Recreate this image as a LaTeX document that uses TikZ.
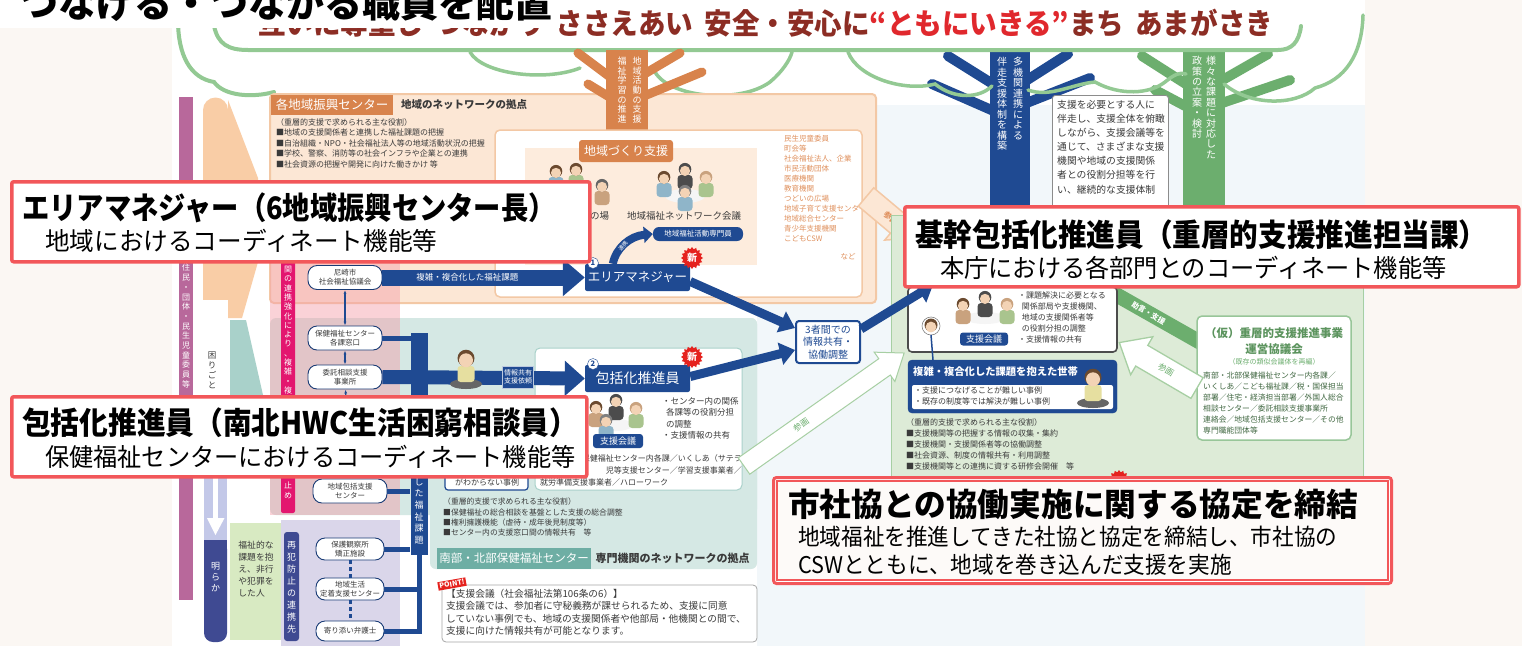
\documentclass[tikz,border=0pt]{standalone}
\usepackage{graphicx}
\usepackage{fontspec}
\setmainfont{Noto Sans CJK JP}
\usetikzlibrary{shapes.geometric,arrows.meta,calc}

\definecolor{offw}{HTML}{FBF7F3}
\definecolor{skyL}{HTML}{F2F7FA}
\definecolor{navy}{HTML}{1F4A92}
\definecolor{callred}{HTML}{F2575A}
\definecolor{orD}{HTML}{D8834C}
\definecolor{orL}{HTML}{FCE7D5}
\definecolor{orM}{HTML}{F9CDA6}
\definecolor{orB}{HTML}{F3C8A5}
\definecolor{orT}{HTML}{E0915E}
\definecolor{teL}{HTML}{D5E8E4}
\definecolor{teD}{HTML}{6EAEA4}
\definecolor{teW}{HTML}{A9D1CA}
\definecolor{grL}{HTML}{DDEBD7}
\definecolor{grD}{HTML}{6CAE6E}
\definecolor{grB}{HTML}{A7CFA3}
\definecolor{grLine}{HTML}{93C993}
\definecolor{mag}{HTML}{E3166F}
\definecolor{mauve}{HTML}{B8689B}
\definecolor{pinkov}{HTML}{F49CA8}
\definecolor{banner}{HTML}{8C2D24}
\definecolor{bannerR}{HTML}{E0282D}
\definecolor{txt}{HTML}{3A3A3A}
\definecolor{lav}{HTML}{DAD6EA}
\definecolor{lavA}{HTML}{C3C8E8}
\definecolor{indi}{HTML}{3F4A92}
\definecolor{lgreen}{HTML}{D8EAC2}
\definecolor{skin}{HTML}{F3D3B5}
\definecolor{hairA}{HTML}{6B4A2F}
\definecolor{shirtA}{HTML}{8FB5C9}
\definecolor{shirtB}{HTML}{A9C48E}
\definecolor{shirtC}{HTML}{C9A27E}
\definecolor{sitshirt}{HTML}{E6DFA0}
\definecolor{newred}{HTML}{E5221E}

\newcommand\fs[2]{\fontsize{#1}{#2}\selectfont}
% vertical (top-to-bottom) text: one character per line
\newcommand\vtend{}
\def\vtaux#1{\ifx#1\vtend\else\hbox to 0pt{\hss#1\hss}\expandafter\vtaux\fi}
\newcommand\vtxt[2]{\vbox{\baselineskip=#1pt\lineskiplimit=-100pt\lineskip=0pt\vtaux#2\vtend}}

% hollow block arrow: style, tail x, tail y, angle, length, shaft half width, head half width, head length
\newcommand\blockarrow[8]{%
  \begin{scope}[shift={(#2,#3)}, rotate=#4]
    \draw[#1] (0,-#6) -- ({#5-#8},-#6) -- ({#5-#8},-#7) -- (#5,0) -- ({#5-#8},#7) -- ({#5-#8},#6) -- (0,#6) -- cycle;
  \end{scope}}

% small figures of people
\newcommand\pperson[4]{%
  \begin{scope}[shift={(#1,#2)}]
    \fill[#3, rounded corners=3.5pt] (-7.5,5) rectangle (7.5,19);
    \fill[#4] (0,-0.8) circle (6.3pt);
    \fill[skin] (0,0.9) circle (5.1pt);
  \end{scope}}
\newcommand\psit[2]{%
  \begin{scope}[shift={(#1,#2)}]
    \fill[black!60] (0,25) ellipse (16pt and 5pt);
    \fill[sitshirt, rounded corners=3pt] (-8.5,7) rectangle (8.5,23);
    \fill[hairA] (0,-0.8) circle (8.5pt);
    \fill[skin] (0,1.3) circle (7pt);
  \end{scope}}

\begin{document}
\begin{tikzpicture}[x=1pt,y=-1pt,
  callout/.style={draw=callred, line width=3.5pt, fill=white, rounded corners=2pt, inner sep=0, anchor=north west},
  ctitle/.style={anchor=base west, inner sep=0, text=black, font=\bfseries\fs{31}{32}},
  csub/.style={anchor=base west, inner sep=0, text=black, font=\fs{25}{26}},
  oval/.style={draw=navy!80!black, line width=0.9pt, fill=white, rounded corners=9pt, minimum width=74pt, minimum height=24pt, align=center, font=\fs{7.5}{9}, text=txt, inner sep=1pt},
  listtxt/.style={anchor=north west, inner sep=0, align=left, text=txt},
  vlab/.style={anchor=north, inner sep=0, text=white},
  navybox/.style={fill=navy, text=white, rounded corners=2pt, inner sep=0},
  starnew/.style={star, star points=16, star point ratio=1.25, fill=newred, text=white, inner sep=0, minimum size=22pt, font=\bfseries\fs{10}{10}},
  thickarrow/.style={navy, line width=9pt, -{Triangle[width=22pt,length=15pt]}},
  canopy/.style={draw=grLine, line width=4pt, line cap=round},
  pill/.style={fill=navy, text=white, rounded corners=3pt, inner sep=0},
  numc/.style={circle, draw=navy, fill=white, text=navy, inner sep=0, minimum size=11pt, font=\bfseries\fs{7.5}{7.5}},
]
\useasboundingbox (0,0) rectangle (1522,646);
\fill[offw] (0,0) rectangle (1522,646);
\fill[white] (172,0) rectangle (1365,646);
\fill[skyL] (757,105) rectangle (1365,646);

% ---------- slogan banner ----------
\node[anchor=base west, inner sep=0, font=\bfseries\fs{29}{30}, text=banner] (banner) at (258,34)
  {\scalebox{0.95}[1]{互いに尊重し\hspace{0.4em}つながり\hspace{0.4em}ささえあい\hspace{0.4em}安全・安心に\textcolor{bannerR}{“ともにいきる”}まち\hspace{0.4em}あまがさき}};

% ---------- blue and green trees ----------
\fill[navy] (990,50) rectangle (1030,215);
\draw[navy, line width=10pt, line cap=round] (996,86) -- (948,56) (996,112) -- (932,84) (1024,82) -- (1068,54) (1024,104) -- (1090,78);
\node[vlab, font=\fs{10}{10}] (tB1) at (1018,57) {\vtxt{10.5}{多機関連携による}};
\node[vlab, font=\fs{10}{10}] (tB2) at (1002,57) {\vtxt{10.5}{伴走支援体制を構築}};
\fill[grD] (1183,50) rectangle (1225,215);
\draw[grD, line width=10pt, line cap=round] (1189,86) -- (1142,56) (1189,108) -- (1155,90) (1219,82) -- (1268,54) (1219,104) -- (1290,80);
\node[vlab, font=\fs{10}{10}] (tC1) at (1211,56) {\vtxt{10.4}{様々な課題に対応した}};
\node[vlab, font=\fs{10}{10}] (tC2) at (1197,56) {\vtxt{10.4}{政策の立案・検討}};

% ---------- canopy outline ----------
\draw[canopy] (178,20) .. controls (178,55) and (190,78) .. (214,82) .. controls (224,96) and (252,98) .. (274,92);
\draw[canopy] (214,26) .. controls (218,44) and (228,50) .. (248,50) -- (1278,50) .. controls (1292,50) and (1299,42) .. (1301,26);
\draw[canopy, line width=3.5pt] (470,52) .. controls (482,74) and (545,82) .. (580,68);
\draw[canopy, line width=3.5pt] (655,72) .. controls (670,98) and (740,104) .. (770,82) .. controls (782,72) and (790,60) .. (792,52);
\draw[canopy, line width=3.5pt] (848,52) .. controls (858,78) and (905,92) .. (935,84) .. controls (955,100) and (980,98) .. (992,86);
\draw[canopy, line width=3.5pt] (1028,90) .. controls (1050,98) and (1072,84) .. (1095,82) .. controls (1120,96) and (1150,94) .. (1165,82) .. controls (1175,74) and (1180,72) .. (1186,74);
\draw[canopy, line width=3.5pt] (1224,84) .. controls (1250,106) and (1295,106) .. (1315,88) .. controls (1345,80) and (1362,55) .. (1363,15);

% ---------- accompanying-support note ----------
\node[draw=black!45, fill=white, line width=0.8pt, rounded corners=3pt, minimum width=116pt, minimum height=122pt, anchor=north west, inner sep=0] (expl) at (1052,95) {};
\node[listtxt, font=\fs{9.8}{14.1}] (expltxt) at (1057,100) {支援を必要とする人に\\伴走し、支援全体を俯瞰\\しながら、支援会議等を\\通じて、さまざまな支援\\機関や地域の支援関係\\者との役割分担等を行\\い、継続的な支援体制};

% ---------- regional promotion centre (orange) ----------
\draw[orB, fill=orL, line width=2pt, rounded corners=4pt] (270,94) rectangle (876,303);
\fill[orD] (606,50) rectangle (648,130);
\draw[orD, line width=9pt, line cap=round] (614,80) -- (578,53) (611,98) -- (588,84) (641,76) -- (680,53) (644,96) -- (702,72);
\node[vlab, font=\fs{9}{9}] (tA1) at (637,57) {\vtxt{9.6}{地域活動の支援}};
\node[vlab, font=\fs{9}{9}] (tA2) at (622,57) {\vtxt{9.6}{福祉学習の推進}};
\node[fill=orD, text=white, font=\fs{12.5}{13}, inner sep=0, minimum width=122pt, minimum height=20pt, anchor=north west] (hdrA) at (271,95) {各地域振興センター};
\node[anchor=west, inner sep=0, font=\bfseries\fs{10.5}{11}, text=txt] (hdrAt) at (401,105) {地域のネットワークの拠点};
\node[listtxt, font=\fs{8}{10.6}] (listA) at (276,118) {（重層的支援で求められる主な役割）\\■地域の支援関係者と連携した福祉課題の把握\\■自治組織・NPO・社会福祉法人等の地域活動状況の把握\\■学校、警察、消防等の社会インフラや企業との連携\\■社会資源の把握や開発に向けた働きかけ 等};
\draw[orB, fill=white, line width=1.5pt, rounded corners=5pt] (495,130) rectangle (862,297);
\fill[orL!80] (525,148) rectangle (757,265);
\node[fill=orD, text=white, rounded corners=3pt, font=\fs{12}{12}, minimum width=94pt, minimum height=22pt, inner sep=0] (tabB) at (626,151) {地域づくり支援};
\pperson{556}{172}{shirtA}{hairA}
\pperson{576}{170}{shirtB}{hairA}
\pperson{602}{186}{shirtC}{black!60}
\fill[white!92!gray] (685,196) ellipse (20pt and 7pt);
\pperson{664}{178}{shirtA}{hairA}
\pperson{685}{170}{black!70}{black!70}
\pperson{706}{178}{shirtB}{shirtC}
\pperson{685}{192}{shirtA}{gray}
\node[anchor=west, inner sep=0, text=txt, font=\fs{9.5}{10}] (baA) at (590,216) {の場};
\node[inner sep=0, text=txt, font=\fs{9.5}{10}] (netA) at (684,216) {地域福祉ネットワーク会議};
\node[pill, rounded corners=6pt, font=\fs{7.5}{8}, minimum width=90pt, minimum height=14pt] (pillA) at (698,234) {地域福祉活動専門員};
\node[listtxt, text=orT, font=\fs{7.5}{10}] (listB) at (784,135) {民生児童委員\\町会等\\社会福祉法人、企業\\市民活動団体\\医療機関\\教育機関\\つどいの広場\\地域子育て支援センター\\地域総合センター\\青少年支援機関\\こどもCSW};
\node[inner sep=0, text=orT, font=\fs{7.5}{8}] (nadoA) at (848,257) {など};
\blockarrow{draw=orB, fill=orL, line width=1.5pt}{866}{197}{-40}{64}{12}{21}{22}
\node[rotate=-40, text=orT, font=\bfseries\fs{8}{8}, inner sep=0] (sanAt) at (891,218) {参画};

% ---------- health and welfare centre (teal) ----------
\fill[teL, rounded corners=6pt] (270,318) rectangle (757,515);
\fill[teL, rounded corners=6pt] (430,318) rectangle (757,569);
\draw[teW, fill=white, line width=1pt, rounded corners=5pt] (535,348) rectangle (742,490);
\fill[white!92!gray] (615,425) ellipse (18pt and 6pt);
\pperson{596}{408}{shirtC}{hairA}
\pperson{616}{401}{black!70}{black!70}
\pperson{636}{409}{shirtB}{shirtC}
\pperson{606}{421}{shirtA}{gray}
\node[pill, font=\fs{9}{9}, minimum width=50pt, minimum height=14pt] (pillB) at (618,441) {支援会議};
\node[listtxt, font=\fs{8.5}{11.5}] (listC) at (662,397) {・センター内の関係\\\ \ 各課等の役割分担\\\ \ の調整\\・支援情報の共有};
\node[anchor=base east, inner sep=0, text=txt, font=\fs{8}{8}] (listD1) at (742,461) {保健福祉センター内各課／いくしあ（サテラ};
\node[anchor=base east, inner sep=0, text=txt, font=\fs{8}{8}] (listD2) at (742,473) {児等支援センター／学習支援事業者／};
\node[anchor=base west, inner sep=0, text=txt, font=\fs{8}{8}] (listD3) at (540,485) {就労準備支援事業者／ハローワーク};
\draw[navy, line width=1.2pt, fill=white, rounded corners=3pt] (445,462) rectangle (528,490);
\node[inner sep=0, text=txt, font=\fs{8}{8}] (wakaran) at (487,482) {がわからない事例};
\node[listtxt, font=\fs{7.8}{10.2}] (listE) at (443,498) {（重層的支援で求められる主な役割）\\■保健福祉の総合相談を基盤とした支援の総合調整\\■権利擁護機能（虐待・成年後見制度等）\\■センター内の支援窓口間の情報共有　等};
\node[fill=teD, text=white, font=\fs{11.5}{12}, minimum height=21pt, minimum width=154pt, inner sep=0, anchor=south west] (tealtab) at (437,569) {南部・北部保健福祉センター};
\node[anchor=west, inner sep=0, font=\bfseries\fs{11}{11}, text=txt] (tealtabt) at ([xshift=4pt]tealtab.east) {専門機関のネットワークの拠点};

% ---------- left column ----------
\fill[mauve] (179,97) rectangle (193,600);
\node[vlab, font=\fs{8}{8}] (mvt) at (186,264) {\vtxt{9.7}{住民・団体・民生児童委員等}};
\fill[orM] (203,110) rectangle (228,300);
\fill[orM] (215.5,110) circle (12.5pt);
\fill[orM] (228,100) -- (258,178) -- (258,262) -- (242,318) -- (228,318) -- cycle;
\fill[teW] (230,320) -- (246,320) -- (263,395) -- (263,470) -- (230,470) -- cycle;
\node[anchor=north, inner sep=0, text=txt, font=\fs{8.5}{8.5}] (komari) at (212,352) {\vtxt{10}{困りごと}};
\fill[lavA] (204,395) rectangle (227,548);
\fill[white] (213,478) rectangle (218,520);
\fill[white] (207,518) -- (224.5,518) -- (215.5,535) -- cycle;
\fill[indi, rounded corners=9pt] (204,540) rectangle (227,642);
\fill[indi] (204,540) rectangle (227,556);
\node[vlab, font=\fs{9}{9}] (akiraka) at (215.5,562) {\vtxt{11}{明らか}};
\fill[lgreen] (230,523) rectangle (281,640);
\node[anchor=north, inner sep=0, align=left, text=txt, font=\fs{8.8}{12}] (hikou) at (256,541) {福祉的な\\課題を抱\\え、非行\\や犯罪を\\した人};
\fill[lav] (281,520) rectangle (400,646);
\fill[indi, rounded corners=3pt] (284,532) rectangle (299,641);
\node[vlab, font=\fs{9}{9}] (saihan) at (291.5,541) {\vtxt{12}{再犯防止の連携先}};

% pink band over both centres
\fill[pinkov, opacity=0.45] (270,228) rectangle (400,515);
\fill[mag, rounded corners=2pt] (281,238) rectangle (295,513);
\node[vlab, font=\fs{8}{8}] (magt1) at (288,266) {\vtxt{9.3}{関の連携強化により、複雑・複}};
\node[vlab, font=\fs{8}{8}] (magt2) at (288,482) {\vtxt{9.3}{止め}};

% ---------- windows and agencies ----------
\node[oval] (o1) at (345,277.5) {尼崎市\\社会福祉協議会};
\node[oval] (o2) at (345,338) {保健福祉センター\\各課窓口};
\node[oval] (o3) at (345,377) {委託相談支援\\事業所};
\node[oval] (o5) at (350,491) {地域包括支援\\センター};
\node[oval, minimum width=68pt, minimum height=22pt] (o6) at (350,549) {保護観察所\\矯正施設};
\node[oval, minimum width=68pt, minimum height=22pt] (o7) at (350,589) {地域生活\\定着支援センター};
\node[oval, minimum width=68pt, minimum height=20pt] (o8) at (350,631) {寄り添い弁護士};
\draw[navy, line width=1.4pt, {Latex[length=4pt]}-{Latex[length=4pt]}] (o1) -- (o2);
\draw[navy, line width=1.4pt, {Latex[length=4pt]}-{Latex[length=4pt]}] (o2) -- (o3);
\draw[navy, line width=1.4pt, {Latex[length=4pt]}-{Latex[length=4pt]}] (o3) -- (o5);
\draw[navy, line width=3pt, dash pattern=on 4pt off 3pt] (o6) -- (o7);
\draw[navy, line width=3pt, dash pattern=on 4pt off 3pt] (o7) -- (o8);

\node[fill=navy, minimum width=17pt, minimum height=222pt, inner sep=0] (kbar) at (419,444) {};
\node[vlab, font=\fs{9}{9}] (kbart) at (419,478) {\vtxt{11.6}{した福祉課題}};
\draw[navy, line width=5pt] (o2.east) -| (kbar.north);
\draw[navy, line width=5pt] (o5.east) -- (o5.east -| kbar.west);
\draw[navy, line width=5pt] (o6.east) -- (o6.east -| kbar.west);
\draw[navy, line width=5pt] (o7.east) -- (o7.east -| kbar.center);
\draw[navy, line width=5pt] (o8.east) -| (kbar.south);

% ---------- coordinators ----------
\node[navybox, minimum width=105pt, minimum height=27pt, font=\fs{12.5}{13}] (am) at (637.5,277.5) {エリアマネジャー};
\node[numc] (n1) at (593,263) {1};
\node[starnew] (new1) at (692,258) {新};
\draw[navy, line width=16pt, -{Triangle[width=36pt,length=22pt]}] (o1.east) -- (am.west)
  node[pos=0.42, text=white, font=\fs{8.5}{9}] (lab1) {複雑・複合化した福祉課題};
\draw[navy, line width=8pt, -{Triangle[width=16pt,length=9pt]}] ($(am.north west)+(28,0)$) .. controls (616,248) and (630,236) .. (pillA.west);
\node[rotate=50, text=white, font=\fs{5.5}{6}, inner sep=0] (renkei) at (623,246) {連携};

\node[navybox, minimum width=105pt, minimum height=27pt, font=\fs{14}{14}] (hk) at (637.5,378.5) {包括化推進員};
\node[numc] (n2) at (593,364) {2};
\node[starnew] (new2) at (692,357) {新};
\draw[navy, line width=14pt, -{Triangle[width=34pt,length=20pt]}] (o3.east) -- (hk.west);
\node[fill=navy, draw=white!70!navy, text=white, font=\fs{7}{8.5}, align=center, inner sep=1.5pt, minimum height=22pt] (infolab) at (518,377) {情報共有\\支援依頼};
\psit{466}{359}

\node[draw=navy, line width=2pt, fill=white, rounded corners=3pt, minimum width=64pt, minimum height=42pt, align=center, text=navy, font=\fs{10}{12.5}] (tri) at (828,342) {3者間での\\情報共有・\\協働調整};
\draw[thickarrow] ([yshift=-4pt]am.east) -- ([yshift=14pt]tri.west);
\draw[thickarrow] ([yshift=2pt]hk.east) -- ([yshift=-8pt]tri.west);

% ---------- headquarters (green) ----------
\draw[grB, fill=grL, line width=1pt] (891,215) rectangle (1363,492);
\draw[grD, line width=15pt] (1092,281) -- (1205,345)
  node[midway, sloped, text=white, font=\bfseries\fs{7.5}{7.5}] (jogen) {助言・支援};
\draw[black!70, fill=white, line width=1.6pt, rounded corners=4pt] (908,287) rectangle (1117,352);
\fill[white!92!gray] (985,318) ellipse (20pt and 6pt);
\pperson{963}{305}{shirtC}{hairA}
\pperson{985}{298}{black!70}{black!70}
\pperson{1007}{305}{shirtB}{shirtC}
\draw[gray, line width=0.6pt, fill=white] (931,326) circle (9pt);
\fill[hairA] (931,325) circle (6.5pt);
\fill[skin] (931,327) circle (5.4pt);
\node[pill, font=\fs{9}{9}, minimum width=48pt, minimum height=13pt] (pillC) at (984,339) {支援会議};
\node[listtxt, font=\fs{8}{11}] (listF) at (1018,292) {・課題解決に必要となる\\\ \ 関係部局や支援機関、\\\ \ 地域の支援関係者等\\\ \ の役割分担の調整\\・支援情報の共有};
\draw[navy, line width=1.5pt] (931,335) -- (933,360);
\filldraw[navy, rounded corners=4pt] (908,360) rectangle (1117,413);
\fill[white, rounded corners=2pt] (912,385) rectangle (1113,409);
\node[anchor=west, inner sep=0, text=white, font=\bfseries\fs{10.3}{11}] (setai) at (913,372) {複雑・複合化した課題を抱えた世帯};
\node[listtxt, font=\fs{8}{11}] (listG) at (914,387) {・支援につなげることが難しい事例\\・既存の制度等では解決が難しい事例};
\psit{1093}{378}
\node[listtxt, font=\fs{8}{11}] (listH) at (906,418) {（重層的支援で求められる主な役割）\\■支援機関等の把握する情報の収集・集約\\■支援機関・支援関係者等の協働調整\\■社会資源、制度の情報共有・利用調整\\■支援機関等との連携に資する研修会開催　等};

\node[draw=grD!70, fill=white, line width=1.5pt, rounded corners=5pt, minimum width=154pt, minimum height=124pt, inner sep=0] (council) at (1274,378) {};
\node[inner sep=0, text=grD!85!black, font=\bfseries\fs{11.5}{12}] (councilA) at (1274,333) {（仮）重層的支援推進事業};
\node[inner sep=0, text=grD!85!black, font=\bfseries\fs{11.5}{12}] (councilB) at (1274,349) {運営協議会};
\node[inner sep=0, text=grD, font=\fs{7}{7}] (councilC) at (1274,362) {（既存の類似会議体を再編）};
\node[listtxt, text=grD!60!black, font=\fs{7.8}{11}] (councilD) at (1203,372) {南部・北部保健福祉センター内各課／\\いくしあ／こども福祉課／税・国保担当\\部署／住宅・経済担当部署／外国人総合\\相談センター／委託相談支援事業所\\連絡会／地域包括支援センター／その他\\専門職能団体等};
\blockarrow{draw=grB, fill=white, line width=1.3pt}{1197}{388}{149.7}{90}{12}{22}{26}
\node[rotate=-30, text=grD, font=\fs{8.5}{8.5}, inner sep=0] (sanBt) at (1166,370) {参画};

\blockarrow{draw=grB, fill=white, line width=1pt}{744}{466}{35.2}{196}{10}{18}{24}
\node[rotate=35, text=grD, font=\fs{8.5}{8.5}, inner sep=0] (sanCt) at (801,425) {参画};
\node[starnew] (new3) at (1119,481) {};

% ---------- POINT note ----------
\draw[black!35, fill=white, rounded corners=4pt, line width=0.8pt] (442,585) rectangle (757,642);
\node[listtxt, font=\fs{9.7}{12.3}] (pointtxt) at (446,589) {【支援会議（社会福祉法第106条の6）】\\支援会議では、参加者に守秘義務が課せられるため、支援に同意\\していない事例でも、地域の支援関係者や他部局・他機関との間で、\\支援に向けた情報共有が可能となります。};
\node[fill=newred, text=white, font=\bfseries\fs{7}{7}, rotate=10, inner sep=1.5pt] (pointtag) at (452,584) {POINT!};

% ---------- callouts over the chart ----------
\coordinate (c2foot) at (933,285);
\draw[thickarrow] ([yshift=-9pt]tri.north east) -- (c2foot);
\node[callout, minimum width=614pt, minimum height=80pt] (c2) at (903,205) {};
\node[ctitle] (c2a) at (915,246) {\scalebox{0.923}[1]{基幹包括化推進員（重層的支援推進担当課）}};
\node[csub] (c2b) at (940,277) {\scalebox{0.968}[1]{本庁における各部門とのコーディネート機能等}};

\node[callout, minimum width=578pt, minimum height=80pt] (c1) at (10,180) {};
\node[ctitle] (c1a) at (22,219) {\scalebox{0.88}[1]{エリアマネジャー（6地域振興センター長）}};
\node[csub] (c1b) at (45,250) {\scalebox{0.985}[1]{地域におけるコーディネート機能等}};

\node[callout, minimum width=575pt, minimum height=80pt] (c3) at (10,395) {};
\node[ctitle] (c3a) at (22,434) {\scalebox{0.926}[1]{包括化推進員（南北HWC生活困窮相談員）}};
\node[csub] (c3b) at (45,466) {\scalebox{0.967}[1]{保健福祉センターにおけるコーディネート機能等}};

\node[draw=callred, line width=3pt, fill=white, rounded corners=3pt, minimum width=618pt, minimum height=106pt, anchor=north west, inner sep=0] (c4) at (772,476) {};
\draw[callred, line width=1.3pt, fill=offw!60!white] ([shift={(5pt,-5pt)}]c4.north west) rectangle ([shift={(-5pt,5pt)}]c4.south east);
\node[anchor=base west, inner sep=0, text=black, font=\bfseries\fs{32}{33}] (c4a) at (788,516) {\scalebox{0.99}[1]{市社協との協働実施に関する協定を締結}};
\node[anchor=base west, inner sep=0, text=black, font=\fs{23}{24}] (c4b) at (798,545) {\scalebox{0.94}[1]{地域福祉を推進してきた社協と協定を締結し、市社協の}};
\node[anchor=base west, inner sep=0, text=black, font=\fs{23}{24}] (c4c) at (798,573) {\scalebox{0.94}[1]{CSWとともに、地域を巻き込んだ支援を実施}};

% ---------- heading ----------
\fill[white] (0,0) rectangle (560,28);
\node[anchor=base west, inner sep=0, text=black, font=\bfseries\fs{38}{38}] (title) at (20,17) {つなげる・つながる職員を配置};
\end{tikzpicture}
\end{document}
